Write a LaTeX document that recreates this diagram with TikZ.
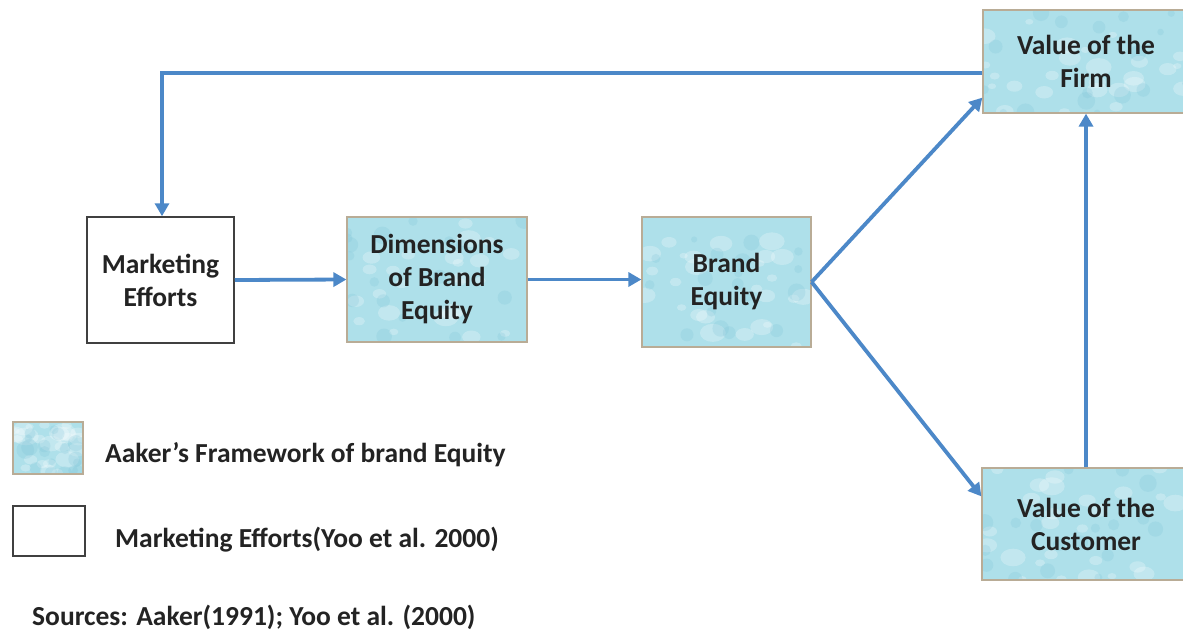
\documentclass[tikz,border=0pt]{standalone}
\usepackage{fontspec}
\setmainfont{Carlito}
\usetikzlibrary{arrows.meta,calc}

\definecolor{waterblue}{RGB}{174,224,234}
\definecolor{dropblue}{RGB}{118,190,212}
\definecolor{framegray}{RGB}{185,172,150}
\definecolor{arrowblue}{RGB}{76,136,200}
\definecolor{inkgray}{RGB}{35,35,35}

\newcommand\boxfont{\fontsize{27.5}{33}\selectfont\bfseries}

\tikzset{
  every node/.style={font=\boxfont, text=inkgray},
  water/.style={draw=framegray, line width=1.2pt, fill=waterblue, align=center, inner sep=0pt,
    path picture={
      \coordinate (sw) at (path picture bounding box.south west);
      \coordinate (ne) at (path picture bounding box.north east);
      \foreach \k in {1,...,26}{
        \pgfmathsetmacro\pu{rnd}\pgfmathsetmacro\pv{rnd}
        \pgfmathsetmacro\pr{4+9*rnd}\pgfmathsetmacro\ps{0.7*\pr}
        \coordinate (dx) at ($(sw)!\pu!(ne)$);
        \coordinate (dy) at ($(sw)!\pv!(ne)$);
        \fill[white, opacity=.25] (dx |- dy) ellipse[x radius=\pr pt, y radius=\ps pt];
      }
      \foreach \k in {1,...,18}{
        \pgfmathsetmacro\pu{rnd}\pgfmathsetmacro\pv{rnd}
        \pgfmathsetmacro\pr{3+6*rnd}
        \coordinate (dx) at ($(sw)!\pu!(ne)$);
        \coordinate (dy) at ($(sw)!\pv!(ne)$);
        \fill[dropblue, opacity=.2] (dx |- dy) circle[radius=\pr pt];
      }
    }},
  plainbox/.style={draw=black!75, line width=1.5pt, fill=white, align=center, inner sep=0pt},
  legtext/.style={inner sep=0pt, anchor=west},
  flow/.style={arrowblue, line width=3.8pt, -{Triangle[length=13pt,width=14pt]}}
}

\begin{document}
\begin{tikzpicture}[x=1pt, y=-1pt]
  \useasboundingbox (0,0) rectangle (1183,638);
  \clip (0,0) rectangle (1183,638);
  \pgfmathsetseed{11}

  % chain of boxes
  \node[plainbox, minimum width=147pt, minimum height=126pt] (mkt) at (160.5,280) {Marketing\\Efforts};
  \node[water, minimum width=180pt, minimum height=125pt] (dim) at (437,279.5) {Dimensions\\of Brand\\Equity};
  \node[water, minimum width=169pt, minimum height=130pt] (brand) at (726.5,282) {Brand\\Equity};
  \node[water, minimum width=206pt, minimum height=103pt] (firm) at (1086,61.5) {Value of the\\Firm};
  \node[water, minimum width=208pt, minimum height=112pt] (cust) at (1086,524) {Value of the\\Customer};

  % legend
  \node[water, minimum width=70pt, minimum height=52pt] (legwater) at (48,448) {};
  \node[plainbox, minimum width=72pt, minimum height=50pt] (legplain) at (49,531) {};
  \node[legtext] (legwatertext) at (105,455) {Aaker’s Framework of brand Equity};
  \node[legtext] (legplaintext) at (115,540) {Marketing Efforts(Yoo et al. 2000)};
  \node[legtext] (sources) at (32,617) {Sources: Aaker(1991); Yoo et al. (2000)};

  % connectors
  \draw[flow] (mkt.east) -- (dim.west);
  \draw[flow] (dim.east) -- (dim.east -| brand.west);
  \draw[flow] (brand.east) -- ([yshift=16pt]firm.south west);
  \draw[flow] (brand.east) -- ([yshift=-29pt]cust.north west);
  \draw[flow] (cust.north) -- (cust.north |- firm.south);
  \draw[flow] ([yshift=-11.5pt]firm.west) -| ([xshift=1.5pt]mkt.north);
\end{tikzpicture}
\end{document}
